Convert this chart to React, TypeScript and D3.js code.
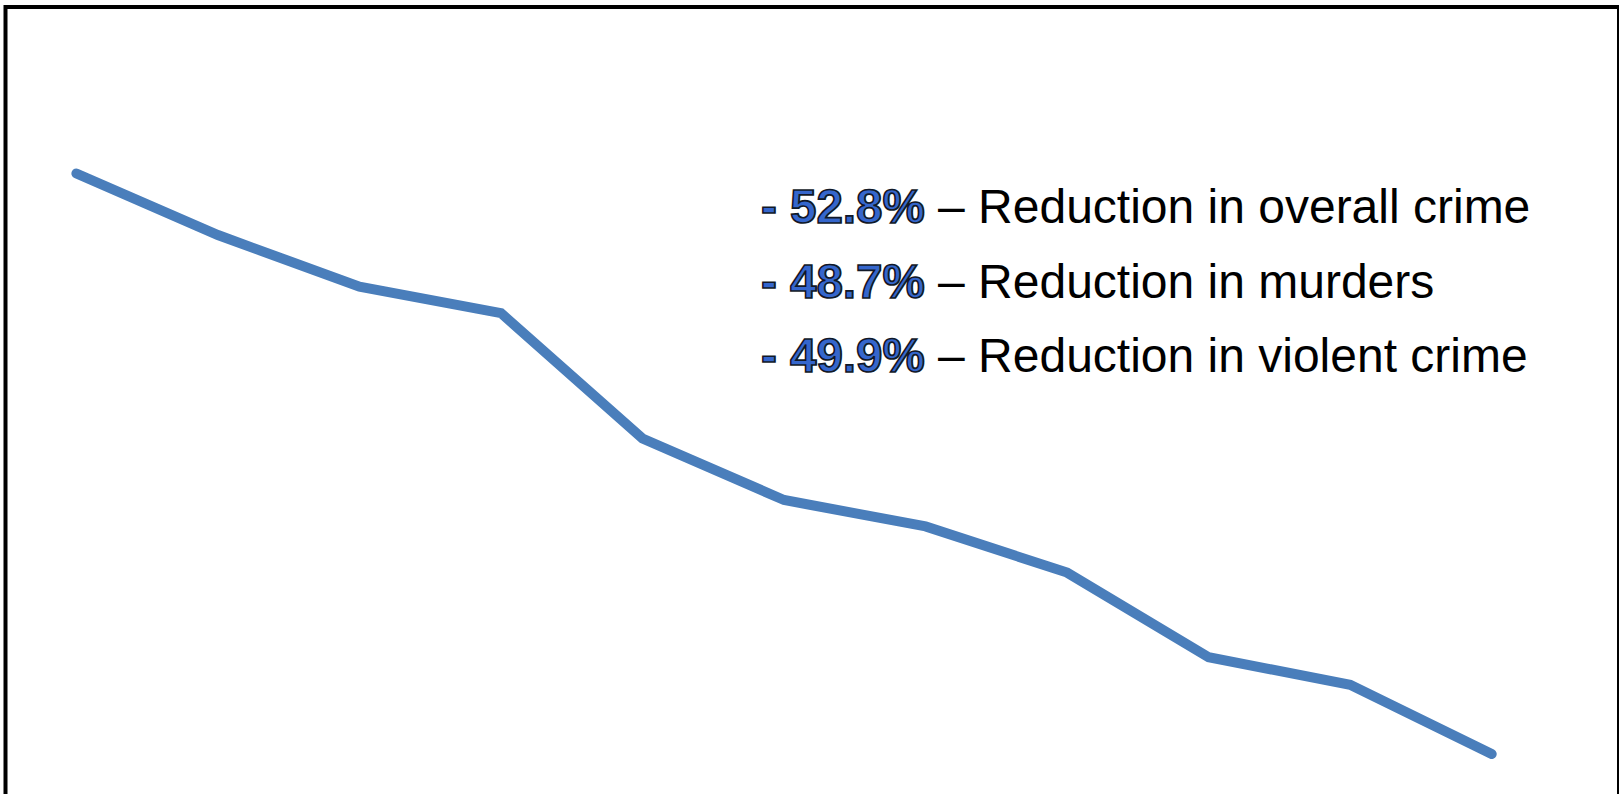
import { useEffect, useRef } from 'react';
import * as d3 from 'd3';

// crime index (first year = 100)
const years = ['1991', '1992', '1993', '1994', '1995', '1996', '1997', '1998', '1999', '2000', '2001'];
const crimeIndex = [100, 94.4, 89.7, 87.3, 75.9, 70.3, 67.9, 63.7, 56.0, 53.5, 47.2];

const statValues = ['- 52.8%', '- 48.7%', '- 49.9%'];
const statLabels = [
  ' – Reduction in overall crime',
  ' – Reduction in murders',
  ' – Reduction in violent crime',
];

const WIDTH = 1619;
const HEIGHT = 794;

export default function App() {
  const svgRef = useRef<SVGSVGElement>(null);

  useEffect(() => {
    if (!svgRef.current) return;
    document.body.style.margin = '0';
    document.body.style.overflow = 'hidden';

    const svg = d3.select(svgRef.current);
    svg.selectAll('*').remove();

    svg.append('rect').attr('width', WIDTH).attr('height', HEIGHT).attr('fill', '#fff');

    // frame, runs off the bottom and right of the page
    svg
      .append('rect')
      .attr('x', 5.5)
      .attr('y', 7)
      .attr('width', 1613.5)
      .attr('height', 820)
      .attr('fill', 'none')
      .attr('stroke', '#000')
      .attr('stroke-width', 4);

    const x = d3.scalePoint<string>().domain(years).range([76.4, 1491.7]);
    const y = d3.scaleLinear().domain([47.2, 100]).range([754, 173.5]);

    const line = d3
      .line<number>()
      .x((_, i) => x(years[i])!)
      .y((d) => y(d));

    svg
      .append('path')
      .datum(crimeIndex)
      .attr('d', line)
      .attr('fill', 'none')
      .attr('stroke', '#4a7ebb')
      .attr('stroke-width', 10)
      .attr('stroke-linecap', 'round')
      .attr('stroke-linejoin', 'miter');

    // stats text
    const baselines = [223, 297.7, 372.4];
    statValues.forEach((v, i) => {
      const t = svg
        .append('text')
        .attr('x', 761)
        .attr('y', baselines[i])
        .attr('font-family', '"Liberation Sans", Arial, sans-serif');
      t.append('tspan')
        .attr('font-size', 47.5)
        .attr('font-weight', 'bold')
        .attr('fill', '#3566cc')
        .attr('stroke', '#111827')
        .attr('stroke-width', 1.7)
        .text(v);
      t.append('tspan').attr('font-size', 48).attr('fill', '#000').text(statLabels[i]);
    });
  }, []);

  return (
    <div style={{ position: 'fixed', left: 0, top: 0, width: WIDTH, height: HEIGHT, overflow: 'hidden' }}>
      <svg ref={svgRef} width={WIDTH} height={HEIGHT} style={{ display: 'block' }} />
    </div>
  );
}
